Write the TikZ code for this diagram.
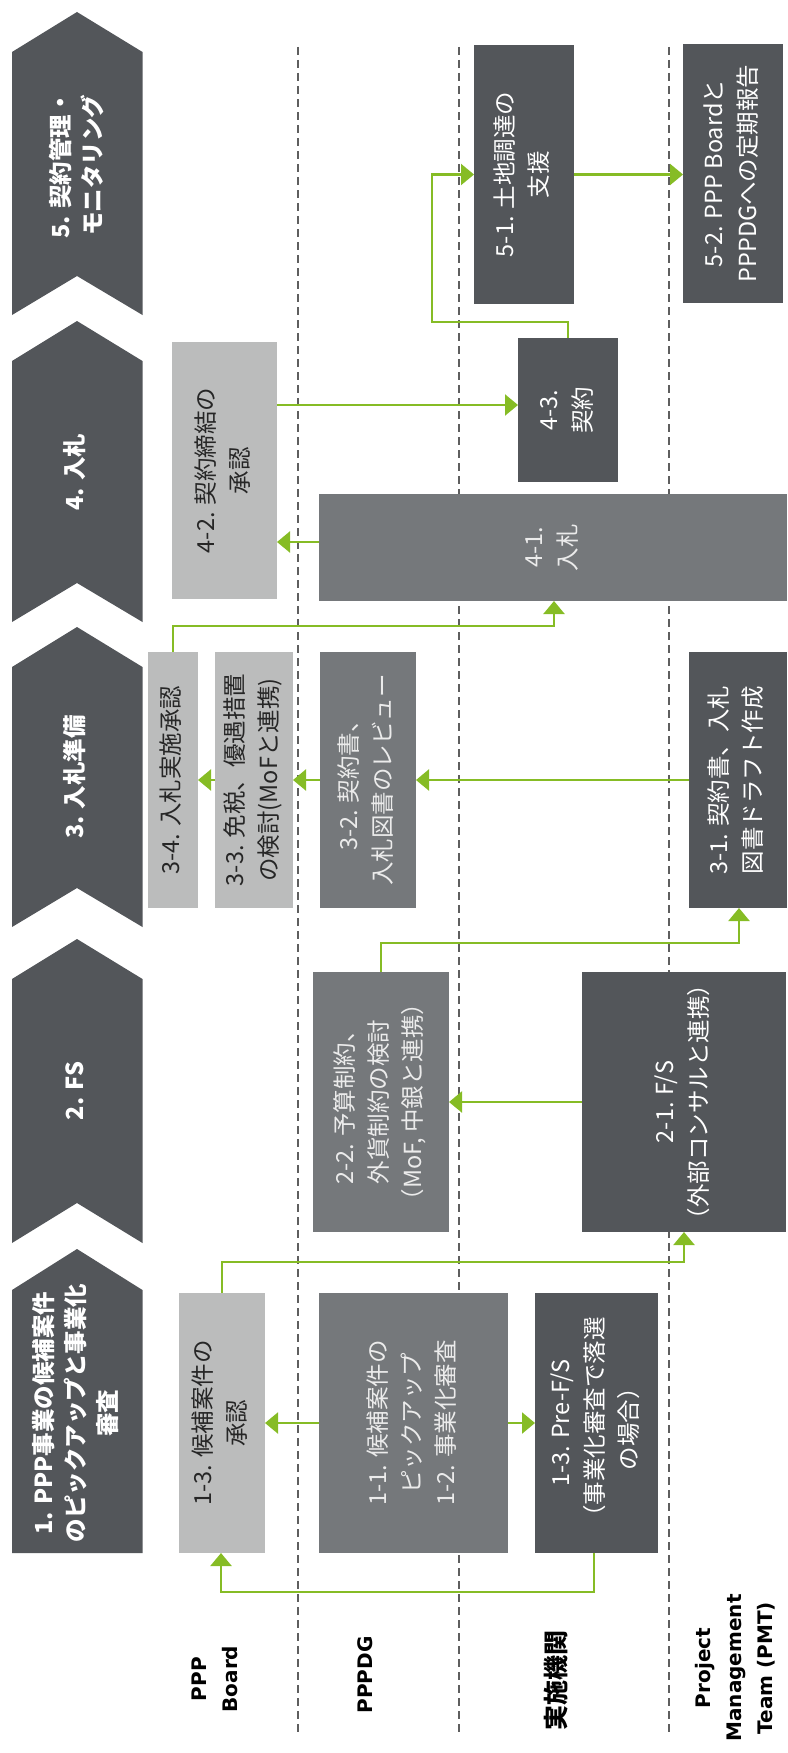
\documentclass[tikz,border=0pt]{standalone}
\usepackage{fontspec}
\usepackage{graphicx}
\setmainfont{Noto Sans CJK JP}
\newfontfamily\lanefont{DejaVu Sans}
\usetikzlibrary{arrows.meta}
\definecolor{dk}{HTML}{53565A}
\definecolor{md}{HTML}{75787B}
\definecolor{lt}{HTML}{BBBCBC}
\definecolor{grn}{HTML}{86BC25}
\definecolor{dash}{HTML}{5E5E5E}
\definecolor{ink}{HTML}{262626}
\newcommand\vt[1]{\rotatebox{90}{\begin{tabular}{@{}c@{}}#1\end{tabular}}}
\tikzset{
  boxbase/.style={inner sep=0pt, outer sep=0pt, font=\fontsize{23.5}{34}\selectfont},
  dkbox/.style={boxbase, fill=dk, text=white},
  mdbox/.style={boxbase, fill=md, text=white!92!black},
  ltbox/.style={boxbase, fill=lt, text=ink},
  chevtext/.style={inner sep=0pt, text=white, font=\bfseries\fontsize{23.5}{32}\selectfont},
  lane/.style={rotate=90, align=center, text=black, inner sep=0pt},
  lanelat/.style={lane, font=\lanefont\bfseries\fontsize{20}{31}\selectfont},
  lanejp/.style={lane, font=\bfseries\fontsize{25}{31}\selectfont},
  sep/.style={draw=dash, line width=1.6pt, dash pattern=on 8pt off 5pt},
  arr/.style={draw=grn, line width=2.2pt, -{Triangle[length=13pt,width=21pt]}},
}
\begin{document}
\begin{tikzpicture}[x=1pt,y=-1pt]
\useasboundingbox (0,0) rectangle (787,1753);
% lane separators
\draw[sep] (298,47) -- (298,1735);
\draw[sep] (459,47) -- (459,1735);
\draw[sep] (669,47) -- (669,1735);

% chevrons
\fill[dk] (12,52) -- (77,12) -- (142.5,52) -- (142.5,315) -- (77,276) -- (12,315) -- cycle;
\fill[dk] (12,361) -- (77,321) -- (142.5,361) -- (142.5,622) -- (77,583) -- (12,622) -- cycle;
\fill[dk] (12,667) -- (77,627) -- (142.5,667) -- (142.5,927) -- (77,888) -- (12,927) -- cycle;
\fill[dk] (12,979) -- (77,939) -- (142.5,979) -- (142.5,1243) -- (77,1203) -- (12,1243) -- cycle;
\fill[dk] (12,1290) -- (77,1249) -- (142.5,1290) -- (142.5,1553) -- (12,1553) -- cycle;
\node[chevtext] (c5) at (79,165) {\vt{5. 契約管理・\\モニタリング}};
\node[chevtext] (c4) at (77,472) {\vt{4. 入札}};
\node[chevtext] (c3) at (77,777) {\vt{3. 入札準備}};
\node[chevtext] (c2) at (77,1091) {\vt{2. FS}};
\node[chevtext] (c1) at (78,1413) {\vt{1. PPP事業の候補案件\\のピックアップと事業化\\審査}};

% boxes
\node[dkbox, minimum width=100pt, minimum height=259pt] (b51) at (524,174.5) {\vt{5-1. 土地調達の\\支援}};
\node[dkbox, minimum width=100pt, minimum height=259pt] (b52) at (733,173.5) {\vt{5-2. PPP Boardと\\PPPDGへの定期報告}};
\node[dkbox, minimum width=100pt, minimum height=144pt] (b43) at (568,410) {\vt{4-3.\\契約}};
\node[ltbox, minimum width=105pt, minimum height=257pt] (b42) at (224.5,470.5) {\vt{4-2. 契約締結の\\承認}};
\node[mdbox, minimum width=468pt, minimum height=107pt] (b41) at (553,547.5) {\vt{4-1.\\入札}};
\node[ltbox, minimum width=50pt, minimum height=256pt] (b34) at (173,780) {\vt{3-4. 入札実施承認}};
\node[ltbox, minimum width=78pt, minimum height=256pt] (b33) at (254,780) {\vt{3-3. 免税、優遇措置\\の検討(MoFと連携)}};
\node[mdbox, minimum width=96pt, minimum height=256pt] (b32) at (368,780) {\vt{3-2. 契約書、\\入札図書のレビュー}};
\node[dkbox, minimum width=98pt, minimum height=256pt] (b31) at (738,780) {\vt{3-1. 契約書、入札\\図書ドラフト作成}};
\node[mdbox, minimum width=136pt, minimum height=260pt] (b22) at (381,1102) {\vt{2-2. 予算制約、\\外貨制約の検討\\（MoF, 中銀と連携）}};
\node[dkbox, minimum width=204pt, minimum height=260pt] (b21) at (684,1102) {\vt{2-1. F/S\\（外部コンサルと連携）}};
\node[ltbox, minimum width=86pt, minimum height=260pt] (b13a) at (222,1423) {\vt{1-3. 候補案件の\\承認}};
\node[mdbox, minimum width=189pt, minimum height=260pt] (b11) at (413.5,1423) {\vt{1-1. 候補案件の\\ピックアップ\\1-2. 事業化審査}};
\node[dkbox, minimum width=123pt, minimum height=260pt] (b13b) at (596.5,1423) {\vt{1-3. Pre-F/S\\（事業化審査で落選\\の場合）}};

% lane labels
\node[lanelat] (l1) at (215,1679) {PPP\\Board};
\node[lanelat] (l2) at (365,1675) {PPPDG};
\node[lanejp] (l3) at (556,1680) {実施機関};
\node[lanelat] (l4) at (735,1668) {Project\\Management\\Team (PMT)};

% connectors
\draw[arr] (b51.east) -- (b51.east -| b52.west);
\draw[arr] (b43.north) |- (432,322) |- (b51.west);
\draw[arr] (b42.east |- 0,405) -- (b43.west |- 0,405);
\draw[arr] (b41.west |- 0,542) -- (b42.east |- 0,542);
\draw[arr] (b34.north) |- (554,626) -- (554,626 |- b41.south);
\draw[arr] (b33.west) -- (b34.east);
\draw[arr] (b32.west) -- (b33.east);
\draw[arr] (b31.west) -- (b32.east);
\draw[arr] (b22.north) |- (739,943) -- (739,943 |- b31.south);
\draw[arr] (b21.west) -- (b22.east);
\draw[arr] (b13a.north) |- (684,1262) -- (684,1262 |- b21.south);
\draw[arr] (b11.west) -- (b13a.east);
\draw[arr] (b11.east) -- (b13b.west);
\draw[arr] (b13b.south -| 594,0) |- (221,1592) -- (221,1592 |- b13a.south);
\end{tikzpicture}
\end{document}
